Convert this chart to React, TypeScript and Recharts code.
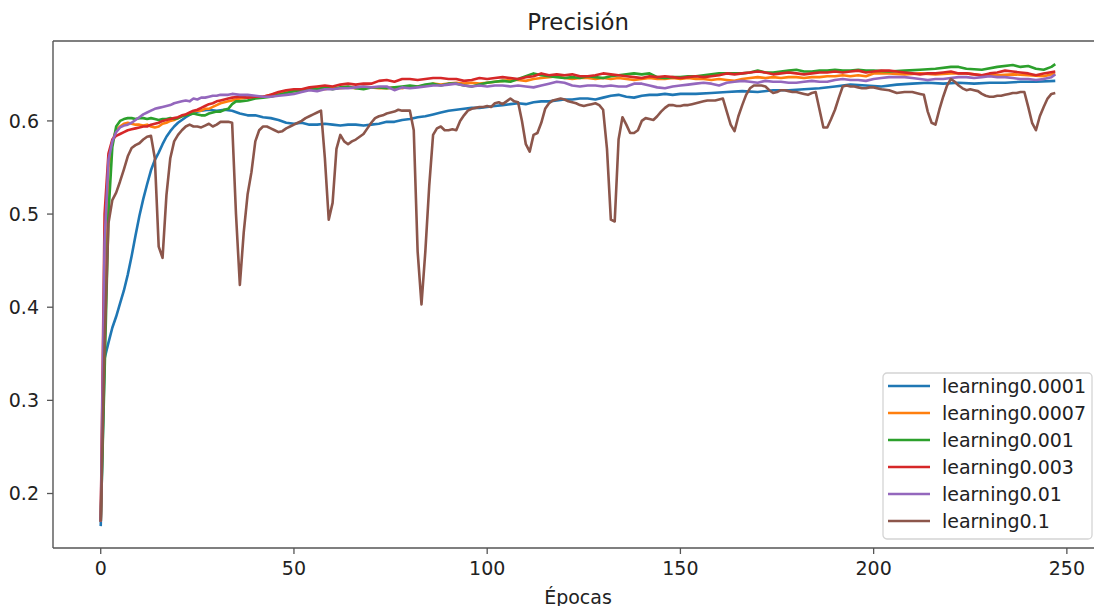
import React from "react";
import { LineChart, Line, XAxis, YAxis, ReferenceLine } from "recharts";

const FONT = "DejaVu Sans, sans-serif";

const xTicks = [0, 50, 100, 150, 200, 250];
const yTicks = [0.2, 0.3, 0.4, 0.5, 0.6];
const seriesNames = ["learning0.0001", "learning0.0007", "learning0.001", "learning0.003", "learning0.01", "learning0.1"];
const seriesColors = ["#1f77b4", "#ff7f0e", "#2ca02c", "#d62728", "#9467bd", "#8c564b"];

const lr00001: [number, number][] = [[0,0.165],[1,0.345],[2,0.362],[3,0.378],[4,0.39],[5,0.404],[6,0.418],[7,0.435],[8,0.455],[9,0.477],[10,0.498],[11,0.516],[12,0.532],[13,0.547],[14,0.558],[15,0.566],[16,0.575],[17,0.583],[18,0.589],[19,0.594],[20,0.598],[22,0.604],[24,0.609],[26,0.611],[28,0.612],[30,0.611],[32,0.612],[34,0.611],[36,0.608],[38,0.606],[40,0.606],[42,0.604],[44,0.603],[46,0.601],[48,0.598],[50,0.597],[52,0.598],[54,0.596],[56,0.596],[58,0.597],[60,0.596],[62,0.595],[64,0.596],[66,0.596],[68,0.595],[70,0.596],[72,0.597],[74,0.599],[76,0.599],[78,0.601],[80,0.602],[82,0.604],[84,0.605],[86,0.607],[88,0.609],[90,0.611],[92,0.612],[94,0.613],[96,0.614],[98,0.614],[100,0.615],[102,0.616],[104,0.617],[106,0.618],[108,0.619],[110,0.618],[112,0.62],[114,0.621],[116,0.621],[118,0.622],[120,0.623],[122,0.623],[124,0.624],[126,0.624],[128,0.623],[130,0.625],[132,0.627],[134,0.628],[136,0.626],[138,0.625],[140,0.627],[142,0.628],[144,0.628],[146,0.629],[148,0.628],[150,0.629],[154,0.629],[158,0.63],[162,0.631],[166,0.632],[170,0.631],[174,0.633],[178,0.633],[182,0.634],[186,0.635],[190,0.637],[194,0.639],[198,0.638],[202,0.637],[206,0.639],[210,0.64],[214,0.641],[218,0.64],[222,0.641],[226,0.64],[230,0.641],[234,0.641],[238,0.642],[242,0.642],[247,0.643]];

const lr00007: [number, number][] = [[0,0.17],[1,0.42],[2,0.55],[3,0.578],[4,0.59],[5,0.594],[6,0.597],[7,0.598],[8,0.597],[9,0.596],[10,0.596],[11,0.595],[12,0.596],[13,0.594],[14,0.593],[15,0.594],[16,0.597],[17,0.598],[18,0.6],[19,0.601],[20,0.603],[21,0.605],[22,0.607],[23,0.608],[24,0.61],[25,0.611],[26,0.611],[27,0.613],[28,0.613],[29,0.615],[30,0.617],[31,0.619],[32,0.62],[33,0.621],[34,0.622],[35,0.623],[36,0.624],[38,0.625],[40,0.626],[42,0.626],[44,0.628],[46,0.63],[48,0.631],[50,0.632],[52,0.634],[54,0.634],[56,0.635],[58,0.634],[60,0.636],[62,0.635],[64,0.636],[66,0.635],[68,0.637],[70,0.636],[72,0.635],[74,0.635],[76,0.636],[78,0.635],[80,0.637],[82,0.637],[84,0.638],[86,0.64],[88,0.639],[90,0.64],[92,0.641],[94,0.64],[96,0.641],[98,0.64],[100,0.641],[102,0.642],[104,0.643],[106,0.644],[108,0.644],[110,0.643],[112,0.645],[114,0.646],[116,0.647],[118,0.648],[120,0.646],[122,0.645],[124,0.646],[126,0.646],[128,0.645],[130,0.646],[132,0.645],[134,0.646],[136,0.645],[138,0.644],[140,0.645],[142,0.646],[144,0.645],[146,0.645],[148,0.646],[150,0.645],[152,0.646],[154,0.645],[156,0.645],[158,0.644],[160,0.645],[162,0.644],[164,0.643],[166,0.645],[168,0.646],[170,0.647],[172,0.646],[174,0.647],[176,0.646],[178,0.647],[180,0.647],[182,0.646],[184,0.647],[186,0.647],[188,0.648],[190,0.648],[192,0.649],[194,0.648],[196,0.649],[198,0.648],[200,0.651],[204,0.651],[208,0.65],[212,0.651],[216,0.65],[220,0.651],[224,0.651],[228,0.649],[232,0.649],[236,0.65],[240,0.649],[244,0.648],[247,0.651]];

const lr0001: [number, number][] = [[0,0.17],[1,0.33],[2,0.5],[3,0.572],[4,0.594],[5,0.6],[6,0.602],[7,0.603],[8,0.603],[9,0.602],[10,0.603],[11,0.603],[12,0.602],[13,0.603],[14,0.602],[15,0.601],[16,0.602],[17,0.602],[18,0.603],[19,0.602],[20,0.603],[21,0.605],[22,0.606],[23,0.607],[24,0.608],[25,0.607],[26,0.606],[27,0.606],[28,0.608],[29,0.609],[30,0.61],[31,0.61],[32,0.612],[33,0.613],[34,0.618],[35,0.621],[36,0.621],[38,0.622],[40,0.624],[42,0.625],[44,0.626],[46,0.628],[48,0.63],[50,0.632],[52,0.632],[54,0.635],[56,0.634],[58,0.636],[60,0.634],[62,0.636],[64,0.637],[66,0.635],[68,0.634],[70,0.636],[72,0.636],[74,0.635],[76,0.636],[78,0.637],[80,0.638],[82,0.637],[84,0.639],[86,0.64],[88,0.638],[90,0.64],[92,0.64],[94,0.638],[96,0.637],[98,0.639],[100,0.641],[102,0.642],[104,0.643],[106,0.642],[108,0.645],[110,0.648],[112,0.651],[114,0.649],[116,0.648],[118,0.647],[120,0.646],[122,0.647],[124,0.646],[126,0.648],[128,0.647],[130,0.646],[132,0.648],[134,0.649],[136,0.65],[138,0.651],[140,0.65],[142,0.651],[144,0.647],[146,0.646],[148,0.647],[150,0.647],[152,0.648],[154,0.648],[156,0.649],[158,0.65],[160,0.651],[162,0.651],[164,0.651],[166,0.651],[168,0.652],[170,0.654],[172,0.652],[174,0.652],[176,0.653],[178,0.654],[180,0.655],[182,0.653],[184,0.653],[186,0.654],[188,0.654],[190,0.655],[192,0.654],[194,0.654],[196,0.655],[198,0.654],[200,0.654],[204,0.653],[208,0.654],[212,0.655],[216,0.656],[220,0.658],[222,0.658],[224,0.656],[228,0.655],[232,0.658],[236,0.66],[238,0.658],[240,0.659],[242,0.656],[244,0.655],[246,0.658],[247,0.661]];

const lr0003: [number, number][] = [[0,0.17],[1,0.5],[2,0.565],[3,0.58],[4,0.584],[5,0.586],[6,0.588],[7,0.59],[8,0.591],[9,0.592],[10,0.593],[11,0.594],[12,0.594],[13,0.596],[14,0.597],[15,0.598],[16,0.6],[17,0.601],[18,0.602],[19,0.603],[20,0.604],[21,0.606],[22,0.607],[23,0.609],[24,0.611],[25,0.612],[26,0.614],[27,0.616],[28,0.618],[29,0.619],[30,0.621],[31,0.622],[32,0.623],[33,0.624],[34,0.625],[36,0.626],[38,0.625],[40,0.626],[42,0.626],[44,0.628],[46,0.631],[48,0.633],[50,0.634],[52,0.634],[54,0.636],[56,0.637],[58,0.638],[60,0.637],[62,0.639],[64,0.64],[66,0.639],[68,0.64],[70,0.64],[72,0.643],[74,0.644],[76,0.642],[78,0.645],[80,0.645],[82,0.644],[84,0.645],[86,0.646],[88,0.646],[90,0.645],[92,0.645],[94,0.643],[96,0.644],[98,0.646],[100,0.645],[102,0.646],[104,0.647],[106,0.646],[108,0.645],[110,0.647],[112,0.648],[114,0.651],[116,0.649],[118,0.65],[120,0.649],[122,0.65],[124,0.648],[126,0.648],[128,0.649],[130,0.651],[132,0.65],[134,0.649],[136,0.648],[138,0.647],[140,0.646],[142,0.648],[144,0.647],[146,0.648],[148,0.647],[150,0.646],[152,0.647],[154,0.648],[156,0.647],[158,0.648],[160,0.649],[162,0.651],[164,0.65],[166,0.651],[168,0.652],[170,0.653],[172,0.652],[174,0.65],[176,0.651],[178,0.652],[180,0.651],[182,0.65],[184,0.651],[186,0.652],[188,0.652],[190,0.653],[192,0.652],[194,0.653],[196,0.654],[198,0.652],[200,0.653],[202,0.654],[204,0.654],[206,0.653],[208,0.652],[210,0.651],[212,0.65],[214,0.651],[216,0.651],[218,0.652],[220,0.653],[222,0.651],[224,0.651],[226,0.65],[228,0.649],[230,0.651],[232,0.652],[234,0.654],[236,0.653],[238,0.652],[240,0.651],[242,0.649],[244,0.651],[247,0.653]];

const lr001: [number, number][] = [[0,0.17],[1,0.47],[2,0.558],[3,0.578],[4,0.588],[5,0.593],[6,0.595],[7,0.596],[8,0.598],[9,0.601],[10,0.604],[11,0.607],[12,0.609],[13,0.611],[14,0.613],[15,0.614],[16,0.615],[17,0.616],[18,0.617],[19,0.619],[20,0.62],[21,0.621],[22,0.622],[23,0.621],[24,0.624],[25,0.623],[26,0.625],[27,0.625],[28,0.626],[29,0.627],[30,0.627],[31,0.628],[32,0.628],[33,0.628],[34,0.629],[36,0.628],[38,0.628],[40,0.627],[42,0.626],[44,0.626],[46,0.627],[48,0.628],[50,0.629],[52,0.631],[54,0.633],[56,0.632],[58,0.634],[60,0.634],[62,0.635],[64,0.635],[66,0.636],[68,0.637],[70,0.636],[72,0.637],[74,0.637],[76,0.633],[78,0.636],[80,0.635],[82,0.636],[84,0.637],[86,0.638],[88,0.638],[90,0.639],[92,0.64],[94,0.638],[96,0.637],[98,0.638],[100,0.637],[102,0.638],[104,0.638],[106,0.637],[108,0.638],[110,0.637],[112,0.636],[114,0.638],[116,0.64],[118,0.642],[120,0.641],[122,0.638],[124,0.637],[126,0.638],[128,0.638],[130,0.637],[132,0.638],[134,0.637],[136,0.637],[138,0.64],[140,0.64],[142,0.638],[144,0.636],[146,0.635],[148,0.637],[150,0.638],[152,0.639],[154,0.64],[156,0.641],[158,0.64],[160,0.638],[162,0.641],[164,0.642],[166,0.643],[168,0.642],[170,0.641],[172,0.643],[174,0.642],[176,0.642],[178,0.641],[180,0.641],[182,0.642],[184,0.643],[186,0.642],[188,0.642],[190,0.644],[192,0.645],[194,0.644],[196,0.644],[198,0.643],[200,0.645],[202,0.646],[204,0.647],[206,0.647],[208,0.647],[210,0.646],[212,0.645],[214,0.644],[216,0.645],[218,0.645],[220,0.646],[222,0.647],[224,0.647],[226,0.646],[228,0.647],[230,0.648],[232,0.647],[234,0.647],[236,0.646],[238,0.645],[240,0.645],[242,0.644],[244,0.645],[246,0.647],[247,0.65]];

const lr01: [number, number][] = [[0,0.17],[1,0.36],[2,0.49],[3,0.515],[4,0.523],[5,0.535],[6,0.548],[7,0.562],[8,0.571],[9,0.574],[10,0.576],[11,0.58],[12,0.583],[13,0.584],[14,0.56],[15,0.465],[16,0.453],[17,0.52],[18,0.56],[19,0.578],[20,0.585],[21,0.59],[22,0.594],[23,0.596],[24,0.594],[25,0.594],[26,0.593],[27,0.595],[28,0.597],[29,0.594],[30,0.596],[31,0.599],[32,0.599],[33,0.599],[34,0.598],[35,0.5],[36,0.424],[37,0.48],[38,0.521],[39,0.545],[40,0.578],[41,0.59],[42,0.594],[43,0.594],[44,0.592],[45,0.59],[46,0.588],[47,0.589],[48,0.592],[49,0.594],[50,0.596],[51,0.598],[52,0.6],[53,0.603],[54,0.605],[55,0.607],[56,0.609],[57,0.611],[58,0.56],[59,0.494],[60,0.512],[61,0.57],[62,0.585],[63,0.578],[64,0.575],[65,0.578],[66,0.58],[67,0.583],[68,0.586],[69,0.592],[70,0.598],[71,0.603],[72,0.605],[73,0.606],[74,0.608],[75,0.609],[76,0.61],[77,0.612],[78,0.611],[79,0.611],[80,0.611],[81,0.59],[82,0.46],[83,0.403],[84,0.46],[85,0.53],[86,0.585],[87,0.592],[88,0.594],[89,0.59],[90,0.59],[91,0.591],[92,0.59],[93,0.6],[94,0.606],[95,0.611],[96,0.613],[97,0.614],[98,0.615],[99,0.615],[100,0.616],[101,0.615],[102,0.619],[103,0.62],[104,0.618],[105,0.621],[106,0.624],[107,0.621],[108,0.62],[109,0.6],[110,0.575],[111,0.567],[112,0.585],[113,0.587],[114,0.598],[115,0.613],[116,0.619],[117,0.622],[118,0.623],[119,0.624],[120,0.623],[121,0.621],[122,0.62],[123,0.619],[124,0.617],[125,0.616],[126,0.617],[127,0.618],[128,0.619],[129,0.617],[130,0.612],[131,0.57],[132,0.494],[133,0.492],[134,0.58],[135,0.604],[136,0.596],[137,0.587],[138,0.587],[139,0.59],[140,0.6],[141,0.603],[142,0.602],[143,0.601],[144,0.605],[145,0.61],[146,0.614],[147,0.617],[148,0.617],[149,0.616],[150,0.616],[151,0.617],[152,0.617],[153,0.618],[154,0.619],[155,0.62],[156,0.621],[157,0.622],[158,0.622],[159,0.622],[160,0.623],[161,0.624],[162,0.61],[163,0.596],[164,0.589],[165,0.605],[166,0.617],[167,0.628],[168,0.635],[169,0.638],[170,0.638],[171,0.638],[172,0.637],[173,0.633],[174,0.63],[175,0.631],[176,0.633],[177,0.633],[178,0.632],[179,0.631],[180,0.631],[181,0.63],[182,0.629],[183,0.628],[184,0.63],[185,0.631],[186,0.612],[187,0.593],[188,0.593],[189,0.602],[190,0.612],[191,0.625],[192,0.637],[193,0.638],[194,0.637],[195,0.637],[196,0.636],[197,0.635],[198,0.635],[199,0.636],[200,0.636],[202,0.634],[204,0.633],[206,0.63],[208,0.631],[210,0.631],[212,0.629],[213,0.628],[214,0.61],[215,0.598],[216,0.596],[217,0.612],[218,0.626],[219,0.638],[220,0.645],[221,0.642],[222,0.638],[223,0.635],[224,0.633],[225,0.634],[226,0.633],[227,0.632],[228,0.629],[229,0.627],[230,0.626],[231,0.626],[232,0.627],[233,0.627],[234,0.628],[235,0.629],[236,0.63],[237,0.63],[238,0.631],[239,0.631],[240,0.615],[241,0.598],[242,0.59],[243,0.605],[244,0.615],[245,0.624],[246,0.629],[247,0.63]];

const seriesData = [lr00001, lr00007, lr0001, lr0003, lr001, lr01];

const X_DOMAIN: [number, number] = [-12.35, 259.35];
const Y_DOMAIN: [number, number] = [0.1415, 0.6858];

const tickStyle = { fontSize: 19, fill: "#222", fontFamily: FONT };

function LegendBox() {
  const rowY = (i: number) => 14 + i * 27;
  return (
    <svg width={211} height={168} style={{ position: "absolute", left: 882, top: 372 }}>
      <rect x={1} y={1} width={209} height={166} rx={4} ry={4} fill="#ffffff" fillOpacity={0.8} stroke="#d4d4d4" strokeWidth={1.3} />
      {seriesNames.map((name, i) => (
        <g key={name}>
          <line x1={6} x2={48} y1={rowY(i)} y2={rowY(i)} stroke={seriesColors[i]} strokeWidth={2.7} />
          <text x={60} y={rowY(i)} dy="0.36em" fontSize={19} fill="#222" fontFamily={FONT}>
            {name}
          </text>
        </g>
      ))}
    </svg>
  );
}

export default function App() {
  return (
    <div style={{ position: "fixed", left: 0, top: 0, width: 1094, height: 606, overflow: "hidden", background: "#fff" }}>
      <div style={{ position: "absolute", left: 0, top: 10.5, width: 1156, textAlign: "center", fontFamily: FONT, fontSize: 22.8, lineHeight: 1, color: "#222" }}>
        Precisión
      </div>
      <LineChart width={1110} height={606} margin={{ top: 41, right: 7, bottom: 0, left: 0 }}>
        <XAxis
          dataKey="e"
          type="number"
          domain={X_DOMAIN}
          allowDataOverflow
          ticks={xTicks}
          interval={0}
          height={58}
          tickSize={6}
          tickMargin={8}
          tick={tickStyle}
          axisLine={{ stroke: "#555", strokeWidth: 1.4 }}
          tickLine={{ stroke: "#555", strokeWidth: 1.3 }}
        />
        <YAxis
          type="number"
          domain={Y_DOMAIN}
          allowDataOverflow
          ticks={yTicks}
          interval={0}
          width={53}
          tickSize={6}
          tickMargin={8}
          tick={tickStyle}
          tickFormatter={(v: number) => v.toFixed(1)}
          axisLine={{ stroke: "#555", strokeWidth: 1.4 }}
          tickLine={{ stroke: "#555", strokeWidth: 1.3 }}
        />
        <ReferenceLine y={Y_DOMAIN[1]} stroke="#555" strokeWidth={1.4} ifOverflow="extendDomain" />
        {seriesData.map((arr, i) => (
          <Line
            key={seriesNames[i]}
            data={arr.map(([e, v]) => ({ e, v }))}
            dataKey="v"
            name={seriesNames[i]}
            type="linear"
            stroke={seriesColors[i]}
            strokeWidth={2.6}
            strokeLinejoin="round"
            dot={false}
            activeDot={false}
            isAnimationActive={false}
          />
        ))}
      </LineChart>
      <div style={{ position: "absolute", left: 0, top: 588, width: 1156, textAlign: "center", fontFamily: FONT, fontSize: 19, lineHeight: 1, color: "#222" }}>
        Épocas
      </div>
      <LegendBox />
    </div>
  );
}
